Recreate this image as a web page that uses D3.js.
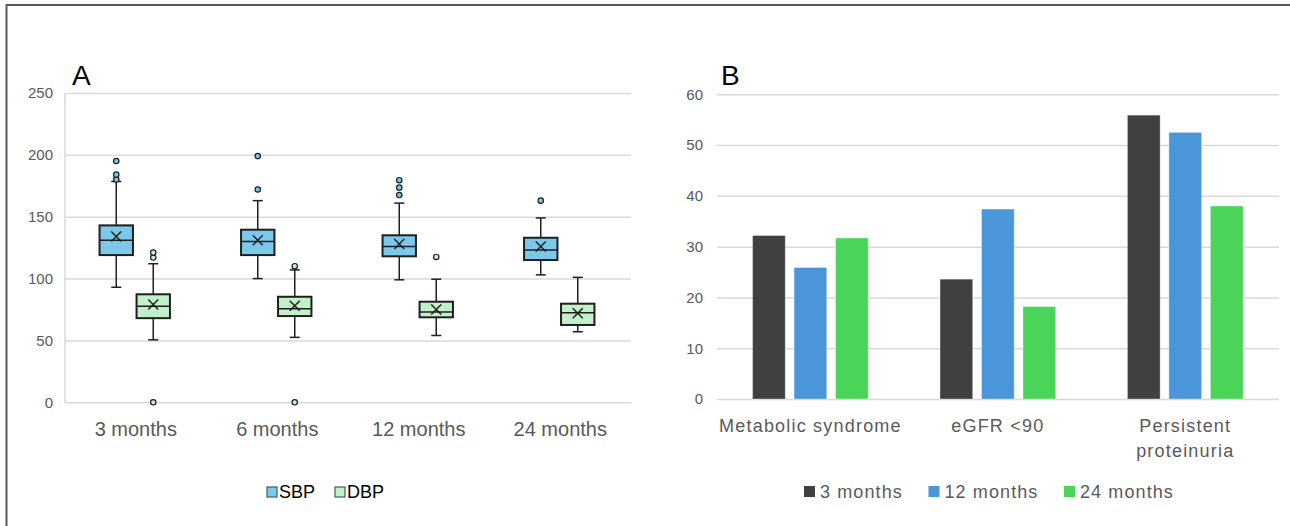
<!DOCTYPE html>
<html><head><meta charset="utf-8">
<script src="https://cdn.jsdelivr.net/npm/d3@7"></script>
<style>
html,body{margin:0;padding:0;background:#fff;}
svg{display:block;font-family:"Liberation Sans",Arial,sans-serif;}
</style></head>
<body>
<svg id="chart" width="1290" height="526"></svg>
<script>
// ---------- Panel A data (box plots) ----------
const bpCategories = ["3 months", "6 months", "12 months", "24 months"];
const bpSeries = ["SBP", "DBP"];
const sbpLow    = [93, 100, 99, 103];
const sbpQ1     = [119, 119, 118, 115];
const sbpMedian = [131, 130, 126, 123];
const sbpQ3     = [143, 139.5, 135, 133];
const sbpHigh   = [178.5, 163, 161, 149];
const sbpMean   = [134, 131, 128, 126];
const sbpOutliers = [[180, 184, 195], [172, 199], [167.5, 173.5, 179.5], [163]];
const dbpLow    = [50.5, 52.5, 54, 57];
const dbpQ1     = [68, 69.7, 68.7, 62.5];
const dbpMedian = [77.6, 75.6, 73, 72.4];
const dbpQ3     = [87.3, 85.3, 81.3, 79.7];
const dbpHigh   = [112, 107, 99.5, 101];
const dbpMean   = [79, 78, 75, 72];
const dbpOutliers = [[0, 117, 121], [0, 110], [117.5], []];
const bpTicks = [0, 50, 100, 150, 200, 250];

// ---------- Panel B data (grouped bars) ----------
const outcomes = ["Metabolic syndrome", "eGFR <90", "Persistent proteinuria"];
const periods = ["3 months", "12 months", "24 months"];
const m3Values  = [32.2, 23.6, 55.9];
const m12Values = [25.9, 37.4, 52.5];
const m24Values = [31.7, 18.2, 38.0];
const pctTicks = [0, 10, 20, 30, 40, 50, 60];

// ---------- styles ----------
const seriesFill = {SBP: "#7dc8ea", DBP: "#c2f0c8"};
const periodFill = {"3 months": "#404040", "12 months": "#4a96d8", "24 months": "#4ad55a"};
const gridColor = "#d9d9d9";
const labelColor = "#595959";
const ink = "#1f1f1f";

const svg = d3.select("#chart");

// frame
svg.append("path").attr("d", "M6.5,526 V5 H1290").attr("fill", "none")
  .attr("stroke", "#5a5a5a").attr("stroke-width", 2);

// ================= Panel A =================
const ax = d3.scaleBand().domain(bpCategories).range([65, 631]);
const ay = d3.scaleLinear().domain([0, 250]).range([402.3, 93]);
const ax1 = d3.scaleBand().domain(bpSeries).range([-36.2, 34.2]).paddingInner(0.097);

const gA = svg.append("g");
// grid
gA.append("g").attr("transform", "translate(65,0)")
  .call(d3.axisLeft(ay).tickValues(bpTicks).tickSize(-566).tickFormat(""))
  .call(g => g.select(".domain").remove())
  .call(g => g.selectAll("line").attr("stroke", gridColor).attr("stroke-width", 1.5));
// vertical axis line
gA.append("line").attr("x1", 65).attr("x2", 65).attr("y1", ay(250)).attr("y2", ay(0))
  .attr("stroke", gridColor).attr("stroke-width", 1.5);
// tick labels
gA.append("g").attr("transform", "translate(53,0)")
  .call(d3.axisLeft(ay).tickValues(bpTicks).tickSize(0).tickPadding(0))
  .call(g => g.select(".domain").remove())
  .call(g => g.selectAll("text").attr("fill", labelColor).style("font-size", "15px")
    .style("font-family", "'Liberation Sans',Arial,sans-serif"));
// category labels
gA.append("g").attr("transform", "translate(0,402.3)")
  .call(d3.axisBottom(ax).tickSize(0).tickPadding(0))
  .call(g => g.select(".domain").remove())
  .call(g => g.selectAll("text").attr("fill", labelColor).attr("dy", null).attr("y", 34)
    .style("font-size", "20px").style("font-family", "'Liberation Sans',Arial,sans-serif"));

const boxData = [];
bpCategories.forEach((c, i) => {
  boxData.push({cat: c, s: "SBP", low: sbpLow[i], q1: sbpQ1[i], med: sbpMedian[i], q3: sbpQ3[i], high: sbpHigh[i], mean: sbpMean[i], out: sbpOutliers[i]});
  boxData.push({cat: c, s: "DBP", low: dbpLow[i], q1: dbpQ1[i], med: dbpMedian[i], q3: dbpQ3[i], high: dbpHigh[i], mean: dbpMean[i], out: dbpOutliers[i]});
});
const bw = ax1.bandwidth();
const boxes = gA.selectAll("g.box").data(boxData).join("g").attr("class", "box")
  .attr("transform", d => `translate(${ax(d.cat) + ax.bandwidth() / 2 + ax1(d.s)},0)`);
// whiskers
boxes.append("line").attr("x1", bw / 2).attr("x2", bw / 2).attr("y1", d => ay(d.q3)).attr("y2", d => ay(d.high))
  .attr("stroke", ink).attr("stroke-width", 1.5);
boxes.append("line").attr("x1", bw / 2).attr("x2", bw / 2).attr("y1", d => ay(d.q1)).attr("y2", d => ay(d.low))
  .attr("stroke", ink).attr("stroke-width", 1.5);
boxes.append("line").attr("x1", bw / 2 - 5).attr("x2", bw / 2 + 5).attr("y1", d => ay(d.high)).attr("y2", d => ay(d.high))
  .attr("stroke", ink).attr("stroke-width", 1.5);
boxes.append("line").attr("x1", bw / 2 - 5).attr("x2", bw / 2 + 5).attr("y1", d => ay(d.low)).attr("y2", d => ay(d.low))
  .attr("stroke", ink).attr("stroke-width", 1.5);
// box
boxes.append("rect").attr("x", 0).attr("width", bw).attr("y", d => ay(d.q3)).attr("height", d => ay(d.q1) - ay(d.q3))
  .attr("fill", d => seriesFill[d.s]).attr("stroke", ink).attr("stroke-width", 2);
// median
boxes.append("line").attr("x1", 0).attr("x2", bw).attr("y1", d => ay(d.med)).attr("y2", d => ay(d.med))
  .attr("stroke", ink).attr("stroke-width", 1.5);
// mean X
boxes.append("path").attr("d", d => {
  const cx = bw / 2, cy = ay(d.mean), r = 5;
  return `M${cx - r},${cy - r}L${cx + r},${cy + r}M${cx - r},${cy + r}L${cx + r},${cy - r}`;
}).attr("stroke", ink).attr("stroke-width", 1.5).attr("fill", "none");
// outliers
boxes.each(function (d) {
  d3.select(this).selectAll("circle").data(d.out).join("circle")
    .attr("cx", bw / 2).attr("cy", v => ay(v)).attr("r", 2.7)
    .attr("fill", seriesFill[d.s]).attr("stroke", ink).attr("stroke-width", 1.2);
});
// panel label
gA.append("text").attr("x", 72).attr("y", 85).text("A").attr("fill", "#000").style("font-size", "28px");
// legend
const legA = gA.append("g");
const legAX = {SBP: 267, DBP: 335};
bpSeries.forEach(s => {
  legA.append("rect").attr("x", legAX[s]).attr("y", 487).attr("width", 10).attr("height", 10)
    .attr("fill", seriesFill[s]).attr("stroke", "#3d5c66").attr("stroke-width", 1.2);
  legA.append("text").attr("x", legAX[s] + 12).attr("y", 498).text(s).attr("fill", "#000").style("font-size", "18px");
});

// ================= Panel B =================
const bx = d3.scaleBand().domain(outcomes).range([716.7, 1279]);
const by = d3.scaleLinear().domain([0, 60]).range([399, 94.3]);
const bx1 = d3.scaleBand().domain(periods).range([-57.85, 57.85]).paddingInner(0.212);

const gB = svg.append("g");
gB.append("g").attr("transform", "translate(716.7,0)")
  .call(d3.axisLeft(by).tickValues(pctTicks).tickSize(-562.3).tickFormat(""))
  .call(g => g.select(".domain").remove())
  .call(g => g.selectAll("line").attr("stroke", gridColor).attr("stroke-width", 1.5));
gB.append("g").attr("transform", "translate(703,0)")
  .call(d3.axisLeft(by).tickValues(pctTicks).tickSize(0).tickPadding(0))
  .call(g => g.select(".domain").remove())
  .call(g => g.selectAll("text").attr("fill", labelColor).style("font-size", "15px")
    .style("font-family", "'Liberation Sans',Arial,sans-serif"));

const barData = [];
outcomes.forEach((o, i) => {
  barData.push({o, p: "3 months", v: m3Values[i]});
  barData.push({o, p: "12 months", v: m12Values[i]});
  barData.push({o, p: "24 months", v: m24Values[i]});
});
gB.selectAll("rect.bar").data(barData).join("rect").attr("class", "bar")
  .attr("x", d => bx(d.o) + bx.bandwidth() / 2 + bx1(d.p))
  .attr("width", bx1.bandwidth())
  .attr("y", d => by(d.v)).attr("height", d => by(0) - by(d.v))
  .attr("fill", d => periodFill[d.p]).attr("stroke", "#ffffff").attr("stroke-opacity", 0.35).attr("stroke-width", 1);

// category labels with wrapping
const catG = gB.append("g");
outcomes.forEach(o => {
  const t = catG.append("text").attr("x", bx(o) + bx.bandwidth() / 2).attr("y", 432)
    .attr("text-anchor", "middle").attr("fill", labelColor)
    .style("font-size", "18px").style("letter-spacing", "1.2px").text(o);
  if (t.node().getComputedTextLength() > bx.bandwidth()) {
    const words = o.split(" ");
    t.text(null);
    words.forEach((w, k) => {
      t.append("tspan").attr("x", bx(o) + bx.bandwidth() / 2).attr("dy", k === 0 ? 0 : 25).text(w);
    });
  }
});

gB.append("text").attr("x", 721).attr("y", 85).text("B").attr("fill", "#000").style("font-size", "28px");

// legend
const legB = gB.append("g");
const legBX = {"3 months": 804, "12 months": 928.5, "24 months": 1064};
periods.forEach(p => {
  legB.append("rect").attr("x", legBX[p]).attr("y", 486).attr("width", 11).attr("height", 11)
    .attr("fill", periodFill[p]);
  legB.append("text").attr("x", legBX[p] + 16).attr("y", 498).text(p).attr("fill", labelColor)
    .style("font-size", "18px").style("letter-spacing", "1.1px");
});
</script>
</body></html>
